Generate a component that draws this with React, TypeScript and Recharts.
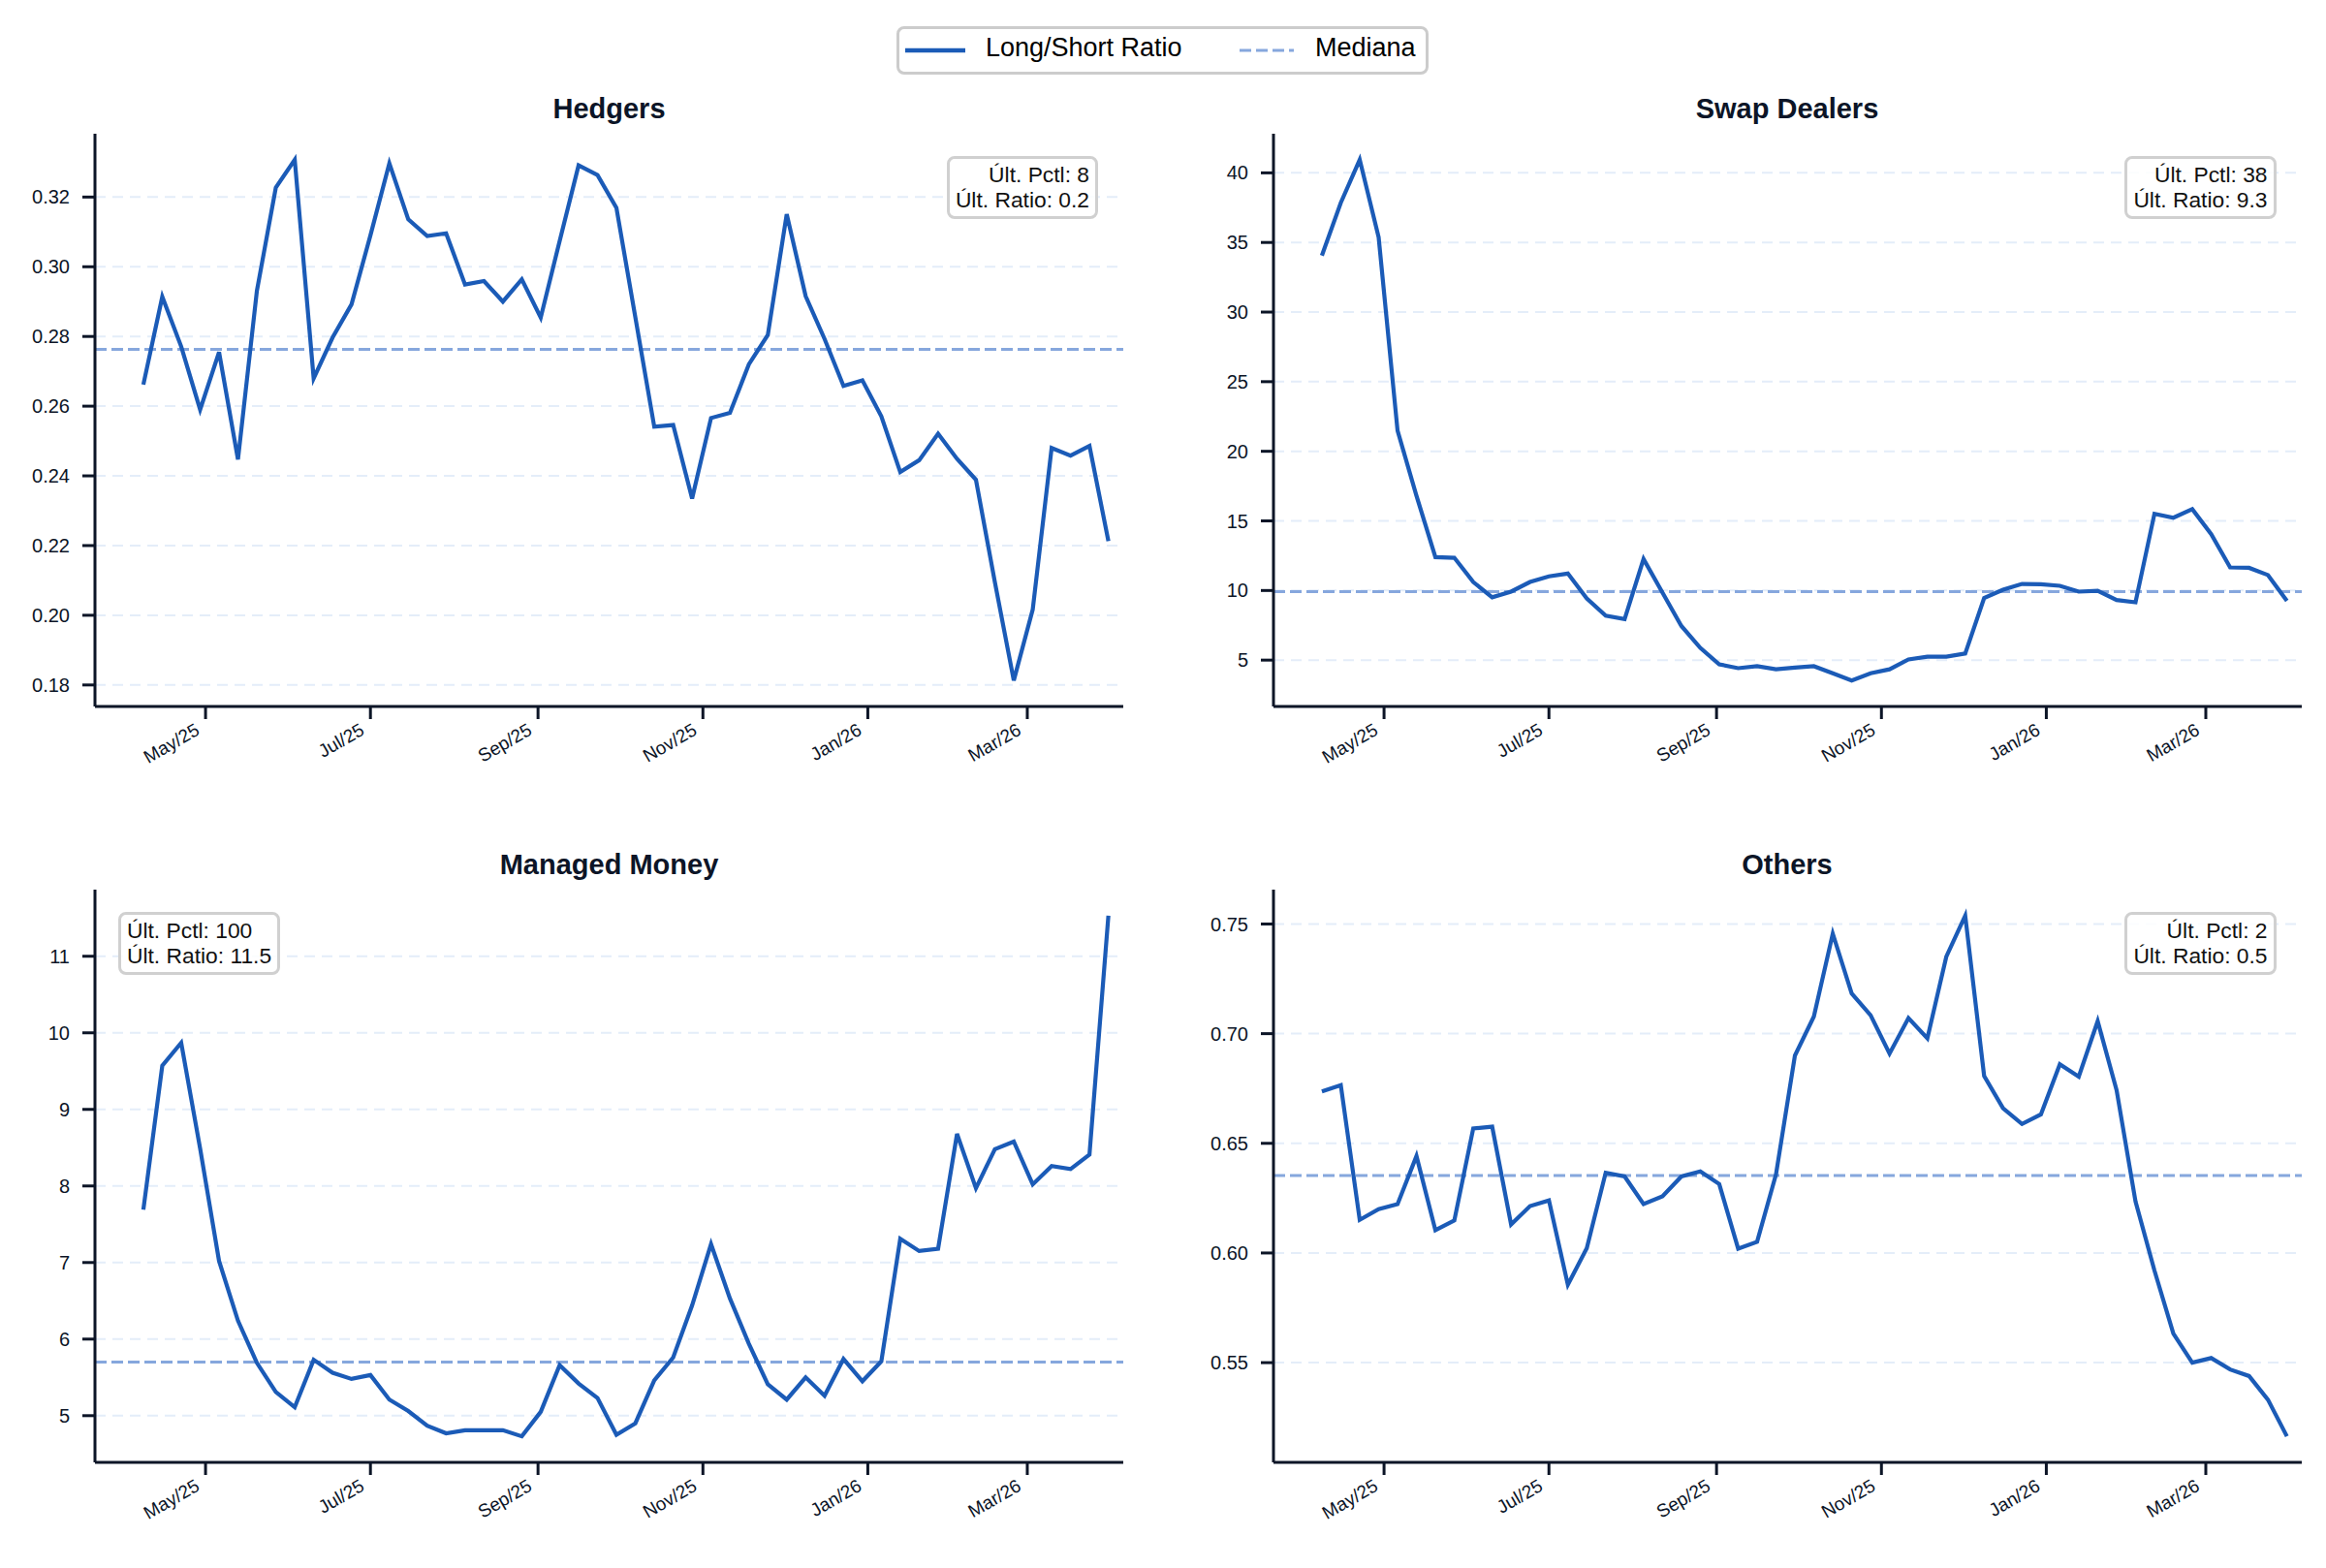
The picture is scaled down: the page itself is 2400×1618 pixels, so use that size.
import React from "react";
import {
  LineChart,
  Line,
  XAxis,
  YAxis,
  CartesianGrid,
  ReferenceLine,
} from "recharts";

const FONT = '"Liberation Sans", Arial, Helvetica, sans-serif';
const LINE_COLOR = "#1b5bb7";
const MEDIAN_COLOR = "#86a7dd";
const GRID_COLOR = "#e4edf9";
const AXIS_COLOR = "#0c1527";
const TEXT_COLOR = "#0c1527";

// weekly COT report dates
const weeks = [
  "2025-04-08", "2025-04-15", "2025-04-22", "2025-04-29", "2025-05-06", "2025-05-13",
  "2025-05-20", "2025-05-27", "2025-06-03", "2025-06-10", "2025-06-17", "2025-06-24",
  "2025-07-01", "2025-07-08", "2025-07-15", "2025-07-22", "2025-07-29", "2025-08-05",
  "2025-08-12", "2025-08-19", "2025-08-26", "2025-09-02", "2025-09-09", "2025-09-16",
  "2025-09-23", "2025-09-30", "2025-10-07", "2025-10-14", "2025-10-21", "2025-10-28",
  "2025-11-04", "2025-11-11", "2025-11-18", "2025-11-25", "2025-12-02", "2025-12-09",
  "2025-12-16", "2025-12-23", "2025-12-30", "2026-01-06", "2026-01-13", "2026-01-20",
  "2026-01-27", "2026-02-03", "2026-02-10", "2026-02-17", "2026-02-24", "2026-03-03",
  "2026-03-10", "2026-03-17", "2026-03-24", "2026-03-31",
];

const hedgers = [
  0.2662, 0.2914, 0.2771, 0.259, 0.2755, 0.2447, 0.2931, 0.3227, 0.3307, 0.268,
  0.2797, 0.2892, 0.309, 0.3297, 0.3136, 0.3088, 0.3096, 0.2949, 0.2959, 0.29,
  0.2964, 0.2854, 0.3074, 0.3291, 0.3263, 0.3169, 0.2855, 0.2541, 0.2546, 0.2335,
  0.2566, 0.2581, 0.272, 0.2804, 0.3151, 0.2916, 0.2793, 0.2658, 0.2674, 0.2571,
  0.2411, 0.2445, 0.2521, 0.2449, 0.2389, 0.2095, 0.1813, 0.2016, 0.248, 0.2458,
  0.2486, 0.2213,
];

const swapDealers = [
  34.06, 37.85, 40.94, 35.38, 21.48, 16.8, 12.4, 12.35, 10.61, 9.51,
  9.92, 10.61, 11.02, 11.22, 9.43, 8.19, 7.94, 12.26, 9.85, 7.45,
  5.88, 4.7, 4.42, 4.56, 4.34, 4.46, 4.56, 4.05, 3.54, 4.06,
  4.34, 5.05, 5.25, 5.25, 5.47, 9.46, 10.06, 10.47, 10.45, 10.34,
  9.92, 9.98, 9.32, 9.15, 15.51, 15.23, 15.84, 14.05, 11.66, 11.63,
  11.11, 9.26,
];

const managedMoney = [
  7.69, 9.57, 9.87, 8.49, 7.02, 6.24, 5.69, 5.31, 5.11, 5.73,
  5.56, 5.48, 5.53, 5.21, 5.06, 4.87, 4.77, 4.81, 4.81, 4.81,
  4.73, 5.05, 5.66, 5.42, 5.23, 4.75, 4.9, 5.46, 5.76, 6.44,
  7.24, 6.53, 5.94, 5.41, 5.21, 5.5, 5.26, 5.74, 5.45, 5.71,
  7.31, 7.15, 7.18, 8.68, 7.97, 8.48, 8.58, 8.02, 8.26, 8.22,
  8.41, 11.53,
];

const others = [
  0.6737, 0.6765, 0.6151, 0.62, 0.6223, 0.6442, 0.6104, 0.6148, 0.6568, 0.6576,
  0.613, 0.6214, 0.624, 0.5855, 0.6022, 0.6366, 0.6349, 0.6223, 0.6258, 0.6349,
  0.6372, 0.6314, 0.602, 0.6051, 0.6358, 0.69, 0.7078, 0.7456, 0.7183, 0.7084,
  0.6909, 0.7071, 0.6979, 0.7351, 0.7538, 0.6807, 0.666, 0.6588, 0.6632, 0.686,
  0.6804, 0.7057, 0.6742, 0.6235, 0.592, 0.5632, 0.55, 0.5521, 0.5469, 0.5439,
  0.5331, 0.5164,
];

const monthTicks = ["2025-05-01", "2025-07-01", "2025-09-01", "2025-11-01", "2026-01-01", "2026-03-01"];
const monthLabels = ["May/25", "Jul/25", "Sep/25", "Nov/25", "Jan/26", "Mar/26"];

const hedgersTicks = [0.18, 0.2, 0.22, 0.24, 0.26, 0.28, 0.3, 0.32];
const swapTicks = [5, 10, 15, 20, 25, 30, 35, 40];
const managedTicks = [5, 6, 7, 8, 9, 10, 11];
const othersTicks = [0.55, 0.6, 0.65, 0.7, 0.75];

// x limits: padding (days) around the first / last report
const X_PAD_BEFORE = 17.9;
const X_PAD_AFTER = 5.5;

const toDay = (iso: string) => Date.parse(iso + "T00:00:00Z") / 86400000;
const weekDays = weeks.map(toDay);
const monthTickDays = monthTicks.map(toDay);
const xDomain = [weekDays[0] - X_PAD_BEFORE, weekDays[weekDays.length - 1] + X_PAD_AFTER];

const median = (vals: number[]) => {
  const s = [...vals].sort((a, b) => a - b);
  const m = Math.floor(s.length / 2);
  return s.length % 2 ? s[m] : (s[m - 1] + s[m]) / 2;
};

const percentileOfLast = (vals: number[]) => {
  const last = vals[vals.length - 1];
  return Math.round((vals.filter((v) => v <= last).length / vals.length) * 100);
};

const paddedDomain = (vals: number[]) => {
  const lo = Math.min(...vals);
  const hi = Math.max(...vals);
  const pad = (hi - lo) * 0.05;
  return [lo - pad, hi + pad];
};

// layout of one panel (chart box, plot area starts at 98,18 inside it)
const CHART_W = 1180;
const CHART_H = 700;
const PLOT_LEFT = 98;
const PLOT_W = 1061;

function MonthTick({ x, y, payload }: any) {
  const idx = monthTickDays.indexOf(payload.value);
  const px = x - 5;
  const py = y + 15;
  return (
    <text
      x={px}
      y={py}
      transform={`rotate(-30, ${px}, ${py})`}
      textAnchor="end"
      fill={TEXT_COLOR}
      fontSize={19}
      fontFamily={FONT}
    >
      {monthLabels[idx]}
    </text>
  );
}

interface PanelProps {
  title: string;
  values: number[];
  ticks: number[];
  decimals: number;
  left: number;
  top: number;
  boxSide: "left" | "right";
}

function Panel({ title, values, ticks, decimals, left, top, boxSide }: PanelProps) {
  const data = weekDays.map((t, i) => ({ t, v: values[i] }));
  const med = median(values);
  const pct = percentileOfLast(values);
  const last = values[values.length - 1];

  const boxStyle: React.CSSProperties = {
    position: "absolute",
    top: 41,
    background: "rgba(255,255,255,0.85)",
    border: "3px solid #d0d0d0",
    borderRadius: 8,
    padding: "3px 6px 4px 6px",
    fontSize: 22.8,
    lineHeight: "26px",
    color: "#111",
    whiteSpace: "pre",
    textAlign: boxSide === "right" ? "right" : "left",
    ...(boxSide === "right" ? { right: CHART_W - (PLOT_LEFT + PLOT_W) + 26 } : { left: PLOT_LEFT + 24 }),
  };

  return (
    <div style={{ position: "absolute", left, top, width: CHART_W, height: CHART_H }}>
      <div
        style={{
          position: "absolute",
          left: PLOT_LEFT,
          width: PLOT_W,
          top: -22,
          textAlign: "center",
          fontSize: 29,
          lineHeight: "29px",
          fontWeight: 700,
          color: TEXT_COLOR,
        }}
      >
        {title}
      </div>
      <LineChart
        width={CHART_W}
        height={CHART_H}
        data={data}
        margin={{ top: 18, right: 21, bottom: 11, left: 18 }}
      >
        <CartesianGrid
          vertical={false}
          syncWithTicks
          stroke={GRID_COLOR}
          strokeWidth={2}
          strokeDasharray="11 7"
        />
        <XAxis
          dataKey="t"
          type="number"
          domain={xDomain}
          ticks={monthTickDays}
          interval={0}
          allowDataOverflow
          height={80}
          tickSize={13}
          tickMargin={0}
          axisLine={{ stroke: AXIS_COLOR, strokeWidth: 3 }}
          tickLine={{ stroke: AXIS_COLOR, strokeWidth: 3 }}
          tick={(p: any) => <MonthTick {...p} />}
        />
        <YAxis
          type="number"
          domain={paddedDomain(values)}
          ticks={ticks}
          interval={0}
          allowDataOverflow
          width={80}
          tickSize={13}
          tickMargin={13}
          axisLine={{ stroke: AXIS_COLOR, strokeWidth: 3 }}
          tickLine={{ stroke: AXIS_COLOR, strokeWidth: 3 }}
          tick={{ fill: TEXT_COLOR, fontSize: 20, fontFamily: FONT }}
          tickFormatter={(v: number) => v.toFixed(decimals)}
        />
        <ReferenceLine
          y={med}
          stroke={MEDIAN_COLOR}
          strokeWidth={3}
          strokeDasharray="12 5"
        />
        <Line
          type="linear"
          dataKey="v"
          stroke={LINE_COLOR}
          strokeWidth={4.2}
          dot={false}
          activeDot={false}
          isAnimationActive={false}
        />
      </LineChart>
      <div style={boxStyle}>
        {`Últ. Pctl: ${pct}\nÚlt. Ratio: ${last.toFixed(1)}`}
      </div>
    </div>
  );
}

function FigureLegend() {
  return (
    <div
      style={{
        position: "absolute",
        left: 925,
        top: 27,
        width: 549,
        height: 50,
        boxSizing: "border-box",
        border: "3px solid #cccccc",
        borderRadius: 8,
        background: "#fff",
        fontSize: 27,
        color: "#000",
      }}
    >
      <svg style={{ position: "absolute", left: 6, top: 19 }} width={64} height={6}>
        <line x1={0} y1={3} x2={62} y2={3} stroke={LINE_COLOR} strokeWidth={4.5} />
      </svg>
      <span style={{ position: "absolute", left: 89, top: 4, lineHeight: "30px" }}>
        Long/Short Ratio
      </span>
      <svg style={{ position: "absolute", left: 351, top: 19 }} width={58} height={6}>
        <line
          x1={0}
          y1={3}
          x2={56}
          y2={3}
          stroke={MEDIAN_COLOR}
          strokeWidth={3}
          strokeDasharray="12 5"
        />
      </svg>
      <span style={{ position: "absolute", left: 429, top: 4, lineHeight: "30px" }}>
        Mediana
      </span>
    </div>
  );
}

export default function App() {
  return (
    <div
      style={{
        position: "absolute",
        left: 0,
        top: 0,
        width: 2400,
        height: 1618,
        background: "#fff",
        fontFamily: FONT,
        overflow: "hidden",
      }}
    >
      <FigureLegend />
      <Panel title="Hedgers" values={hedgers} ticks={hedgersTicks} decimals={2} left={0} top={120} boxSide="right" />
      <Panel title="Swap Dealers" values={swapDealers} ticks={swapTicks} decimals={0} left={1215.5} top={120} boxSide="right" />
      <Panel title="Managed Money" values={managedMoney} ticks={managedTicks} decimals={0} left={0} top={900} boxSide="left" />
      <Panel title="Others" values={others} ticks={othersTicks} decimals={2} left={1215.5} top={900} boxSide="right" />
    </div>
  );
}
